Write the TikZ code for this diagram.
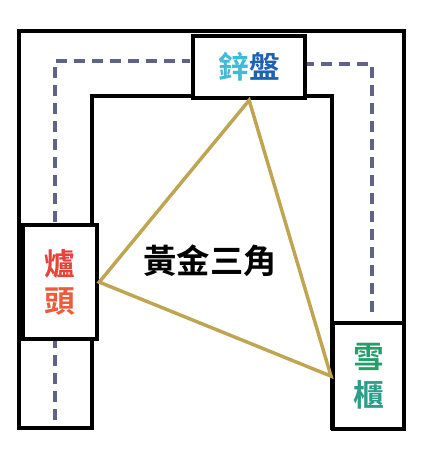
\documentclass[tikz,border=0pt]{standalone}
\usepackage{fontspec}
\newfontfamily\cjk{Noto Sans CJK TC}[BoldFont={Noto Sans CJK TC Bold}]
\usetikzlibrary{calc}
\definecolor{dashc}{HTML}{5F6385}
\definecolor{tri}{HTML}{BFA552}
\definecolor{sinkA}{HTML}{3FBBD9}
\definecolor{sinkB}{HTML}{1F62B3}
\definecolor{burnA}{HTML}{E8423A}
\definecolor{burnB}{HTML}{EE5A3C}
\definecolor{fridA}{HTML}{23A06A}
\definecolor{fridB}{HTML}{2A9E8A}
\begin{document}
\begin{tikzpicture}[x=0.75pt,y=-0.75pt,
  wall/.style={draw=black,line width=3pt,line join=miter},
  fixture/.style={draw=black,fill=white,line width=3.2pt,inner sep=0pt,font=\cjk\bfseries\fontsize{23}{30}\selectfont},
  walk/.style={draw=dashc,line width=2.4pt,dash pattern=on 8.5pt off 5pt},
  zone/.style={draw=tri,line width=2.6pt,line join=miter}]
\useasboundingbox (0,0) rectangle (423,460);
% counter outline (U shape)
\draw[wall] (19,428) -- (19,31) -- (404,31) -- (404,428) -- (332,428) -- (332,96) -- (92,96) -- (92,428) -- cycle;
% walking path
\coordinate (p1) at (55,420);
\coordinate (p2) at (55,61);
\coordinate (p3) at (190,61);
\coordinate (q1) at (303,64);
\coordinate (q2) at (372,64);
\coordinate (q3) at (372,318);
\draw[walk] (p1) -- (p2) -- (p3);
\draw[walk] (q1) -- (q2) -- (q3);
% fixtures
\node[fixture,anchor=north west,minimum width=84pt,minimum height=46.5pt] (sink) at (191,34) {\textcolor{sinkA}{鋅}\textcolor{sinkB}{盤}};
\node[fixture,anchor=north west,minimum width=55.5pt,minimum height=85.5pt,align=center] (burner) at (21,223) {\textcolor{burnA}{爐}\\[-2pt]\textcolor{burnB}{頭}};
\node[fixture,anchor=north west,minimum width=53.25pt,minimum height=79.5pt,align=center] (fridge) at (331,321) {\textcolor{fridA}{雪}\\[-2pt]\textcolor{fridB}{櫃}};
% golden triangle
\draw[zone] (sink.south) -- (burner.east) -- (fridge.west) -- cycle;
\node[font=\cjk\bfseries\fontsize{25}{30}\selectfont] (label) at (210,261) {黃金三角};
\end{tikzpicture}
\end{document}
